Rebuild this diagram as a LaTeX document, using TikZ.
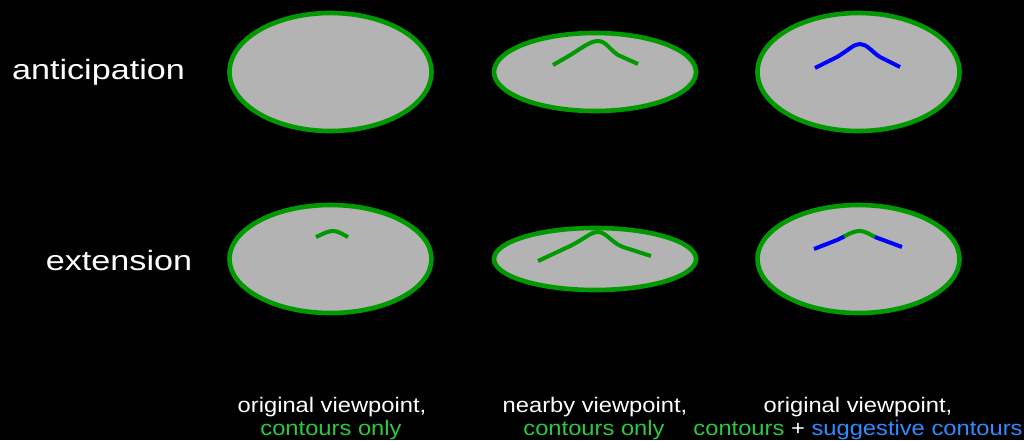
\documentclass[tikz,border=0pt]{standalone}
\usepackage{fontspec}
\setmainfont{Liberation Sans}
\usepackage{graphicx}
\definecolor{cgreen}{RGB}{0,153,0}
\definecolor{cblue}{RGB}{0,0,255}
\definecolor{cgray}{RGB}{179,179,179}
\definecolor{tgreen}{RGB}{45,200,65}
\definecolor{tblue}{RGB}{45,140,255}
\newcommand{\stretchtxt}[2]{\scalebox{#1}[1]{#2}}
\begin{document}
\begin{tikzpicture}[x=1pt,y=-1pt,
  shapeoval/.style={draw=cgreen, fill=cgray, line width=4.6pt},
  contour/.style={draw=cgreen, line width=4pt},
  sugg/.style={draw=cblue, line width=4pt},
  rowlabel/.style={text=white, font=\fontsize{28}{34}\selectfont, anchor=base, inner sep=0pt},
  caption/.style={text=white, font=\fontsize{21}{23}\selectfont, anchor=base, inner sep=0pt}]
\fill[black] (0,0) rectangle (1024,440);
\useasboundingbox (0,0) rectangle (1024,440);

% row labels
\node[rowlabel] (lab1) at (98.5,79.5) {\stretchtxt{1.22}{anticipation}};
\node[rowlabel] (lab2) at (119,270.5) {\stretchtxt{1.22}{extension}};

% top row
\draw[shapeoval] (330.5,72) ellipse [x radius=101, y radius=59];
\draw[shapeoval] (595,72) ellipse [x radius=101, y radius=39];
\draw[contour] (553,65) -- (567,57) .. controls (582,48) and (590,41) .. (598,41)
  .. controls (606,41) and (610,50) .. (618,55) -- (638,64);
\draw[shapeoval] (858.5,72) ellipse [x radius=101, y radius=59];
\draw[sugg] (815,68) -- (837,57) .. controls (850,49) and (854,44) .. (860,44)
  .. controls (867,44) and (872,52) .. (880,57) -- (900,67);

% bottom row
\draw[shapeoval] (330.5,259) ellipse [x radius=101, y radius=54];
\draw[contour] (316,237) .. controls (325,233) and (328,231) .. (333,231)
  .. controls (338,231) and (342,234) .. (348,237);
\draw[shapeoval] (595,259) ellipse [x radius=101, y radius=31];
\draw[contour] (538,261) -- (568,247) .. controls (585,239) and (590,232) .. (598,232)
  .. controls (606,232) and (612,243) .. (623,247) -- (651,256);
\draw[shapeoval] (858.5,259) ellipse [x radius=101, y radius=54];
\draw[sugg] (814,249) -- (837,240) -- (845,236);
\draw[contour] (844,236.5) .. controls (852,232) and (856,231) .. (860,231)
  .. controls (865,231) and (869,234) .. (876,237.5);
\draw[sugg] (875,237) -- (902,247);

% captions
\node[caption] (c1a) at (332,412) {\stretchtxt{1.13}{original viewpoint,}};
\node[caption] (c1b) at (331,435) {\stretchtxt{1.13}{\textcolor{tgreen}{contours only}}};
\node[caption] (c2a) at (595,412) {\stretchtxt{1.13}{nearby viewpoint,}};
\node[caption] (c2b) at (594,435) {\stretchtxt{1.13}{\textcolor{tgreen}{contours only}}};
\node[caption] (c3a) at (858,412) {\stretchtxt{1.13}{original viewpoint,}};
\node[caption] (c3b) at (858,435) {\stretchtxt{1.13}{\textcolor{tgreen}{contours} + \textcolor{tblue}{suggestive contours}}};
\end{tikzpicture}
\end{document}
